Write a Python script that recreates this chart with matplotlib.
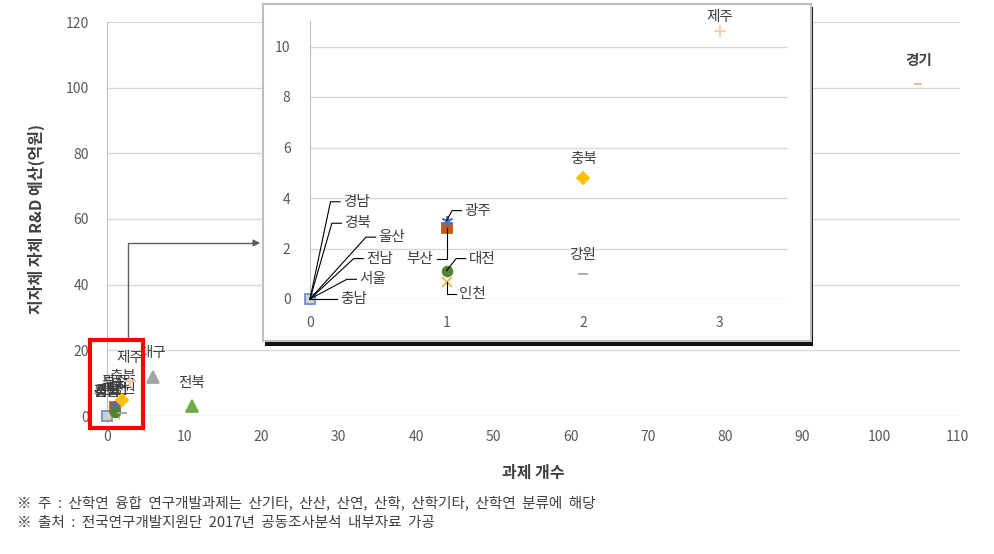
import matplotlib
matplotlib.use('Agg')
import matplotlib.pyplot as plt
from matplotlib.patches import Rectangle

plt.rcParams['font.family'] = ['Noto Sans CJK KR', 'DejaVu Sans']

# 지역별 과제 개수 / 지자체 자체 R&D 예산(억원)
regions = ['경남', '경북', '전남', '울산', '충남', '서울', '부산', '대구', '인천',
           '광주', '대전', '경기', '강원', '충북', '전북', '제주']
task_counts = [0, 0, 0, 0, 0, 0, 1, 6, 1, 1, 1, 105, 2, 2, 11, 3]
budgets = [0, 0, 0, 0, 0, 0, 2.8, 12, 0.66, 3.1, 1.12, 101.2, 1.0, 4.8, 3.0, 10.6]

x_ticks = list(range(0, 111, 10))
y_ticks = list(range(0, 121, 20))
inset_x_ticks = [0, 1, 2, 3]
inset_y_ticks = [0, 2, 4, 6, 8, 10]

ASTER = (6, 2, 0)
# marker, face, edge, size
styles = {
    '경남': ('+', '#9E480E', '#9E480E', 7),
    '경북': ('x', '#997300', '#997300', 6),
    '전남': ('o', '#C9C9C9', '#C9C9C9', 7),
    '울산': ('D', '#264478', '#264478', 5),
    '충남': (ASTER, '#F4B183', '#F4B183', 8),
    '서울': ('s', '#D0D0D0', '#6F93D6', 7),
    '부산': ('s', '#C55A11', '#C55A11', 7),
    '대구': ('^', '#A5A5A5', '#A5A5A5', 8),
    '인천': ('x', '#E8B64A', '#E8B64A', 7),
    '광주': (ASTER, '#4472C4', '#4472C4', 8),
    '대전': ('o', '#548235', '#548235', 7),
    '경기': ('_', '#F4B183', '#F4B183', 6),
    '강원': ('_', '#A5A5A5', '#A5A5A5', 7),
    '충북': ('D', '#FFC000', '#FFC000', 6),
    '전북': ('^', '#70AD47', '#70AD47', 8),
    '제주': ('+', '#F8CBAD', '#F8CBAD', 9),
}

# inset label positions (text x, text y, alignment); leader lines for moved labels
inset_labels = {
    '경남': (0.24, 3.85, 'left'),
    '경북': (0.25, 3.0, 'left'),
    '울산': (0.50, 2.45, 'left'),
    '전남': (0.41, 1.6, 'left'),
    '서울': (0.36, 0.78, 'left'),
    '충남': (0.22, 0.0, 'left'),
    '광주': (1.13, 3.5, 'left'),
    '부산': (0.90, 1.6, 'right'),
    '대전': (1.16, 1.6, 'left'),
    '인천': (1.09, 0.2, 'left'),
}
# labels kept above the point in the inset: vertical offset in points
inset_above = {'충북': 13.5, '강원': 13.5, '제주': 10}

W, H = 994, 554
fig = plt.figure(figsize=(W / 100, H / 100), dpi=100)

# ---- main chart ----
ax = fig.add_axes([107 / W, (H - 416) / H, 853 / W, 394 / H], zorder=0)
ax.set_xlim(0, 110.4)
ax.set_ylim(0, 120)
ax.set_xticks(x_ticks)
ax.set_yticks(y_ticks)
ax.yaxis.grid(True, color='#d9d9d9', lw=1)
ax.set_axisbelow(True)
for s in ['top', 'right', 'bottom']:
    ax.spines[s].set_visible(False)
ax.spines['left'].set_color('#bfbfbf')
ax.tick_params(axis='both', length=0, labelsize=10, colors='#595959')
ax.tick_params(axis='y', pad=13)
ax.tick_params(axis='x', pad=10)

for name, xv, yv in zip(regions, task_counts, budgets):
    m, fc, ec, ms = styles[name]
    ax.plot(xv, yv, marker=m, ms=ms, mfc=fc, mec=ec, mew=1.3, ls='none',
            clip_on=False, zorder=3)
    ax.annotate(name, (xv, yv), xytext=(0, 17), textcoords='offset points',
                ha='center', va='center', fontsize=10.5, color='#404040',
                fontweight='bold' if name == '경기' else 'normal')

ax.set_ylabel('지자체 자체 R&D 예산(억원)', fontsize=11.5, fontweight='bold', color='#404040')
ax.yaxis.set_label_coords(-(107 - 45) / 853, 0.5)
ax.set_xlabel('과제 개수', fontsize=11.5, fontweight='bold', color='#404040')
ax.xaxis.set_label_coords(0.5, -(465 - 416) / 394)

# red box + arrow pointing to the zoomed view
ax.add_patch(Rectangle((-2.2, -3.7), 6.9, 26.8, fill=False, edgecolor='#FF0000',
                       lw=3, clip_on=False, zorder=5))
ax.plot([2.7, 2.7, 19], [23.1, 52.7, 52.7], color='#606060', lw=1, clip_on=False)
ax.annotate('', xy=(20.2, 52.7), xytext=(18.5, 52.7),
            arrowprops=dict(arrowstyle='-|>', color='#606060', lw=1, mutation_scale=10),
            annotation_clip=False)

# ---- inset frame with shadow ----
fig.add_artist(Rectangle((265 / W, (H - 346) / H), 548 / W, 339 / H,
                         transform=fig.transFigure, facecolor='#111111',
                         edgecolor='none', zorder=1))
fig.add_artist(Rectangle((263 / W, (H - 341) / H), 548 / W, 337 / H,
                         transform=fig.transFigure, facecolor='white',
                         edgecolor='#bfbfbf', lw=1.5, zorder=1.1))

# ---- inset chart ----
ix = fig.add_axes([310 / W, (H - 299) / H, 478 / W, 11 * 25.25 / H], zorder=2)
ix.patch.set_alpha(0)
ix.set_xlim(0, 3.5)
ix.set_ylim(0, 11)
ix.set_xticks(inset_x_ticks)
ix.set_yticks(inset_y_ticks)
ix.yaxis.grid(True, color='#d9d9d9', lw=1)
ix.set_axisbelow(True)
for s in ['top', 'right', 'bottom']:
    ix.spines[s].set_visible(False)
ix.spines['left'].set_color('#bfbfbf')
ix.tick_params(axis='both', length=0, labelsize=10, colors='#595959')
ix.tick_params(axis='y', pad=14)
ix.tick_params(axis='x', pad=12)

for name, xv, yv in zip(regions, task_counts, budgets):
    if xv > 3.5:
        continue
    m, fc, ec, ms = styles[name]
    ix.plot(xv, yv, marker=m, ms=ms, mfc=fc, mec=ec, mew=1.3, ls='none',
            clip_on=False, zorder=3)
    if name in inset_labels:
        tx, ty, ha = inset_labels[name]
        if ha == 'left':
            ex, hx = tx - 0.09, tx - 0.02
        else:
            ex, hx = tx + 0.1, tx + 0.03
        ix.plot([xv, ex, hx], [yv, ty, ty], color='black', lw=0.8, zorder=4,
                clip_on=False)
        ix.text(tx, ty, name, ha=ha, va='center', fontsize=10.5, color='#404040')
    else:
        ix.annotate(name, (xv, yv), xytext=(0, inset_above.get(name, 13.5)),
                    textcoords='offset points', ha='center', va='center',
                    fontsize=10.5, color='#404040')

# ---- notes ----
fig.text(17 / W, (H - 503) / H,
         '※  주  :  산학연  융합  연구개발과제는  산기타,  산산,  산연,  산학,  산학기타,  산학연  분류에  해당',
         fontsize=10.5, color='#404040', va='center')
fig.text(17 / W, (H - 523) / H,
         '※  출처  :  전국연구개발지원단  2017년  공동조사분석  내부자료  가공',
         fontsize=10.5, color='#404040', va='center')

fig.savefig('out.png', dpi=100)
